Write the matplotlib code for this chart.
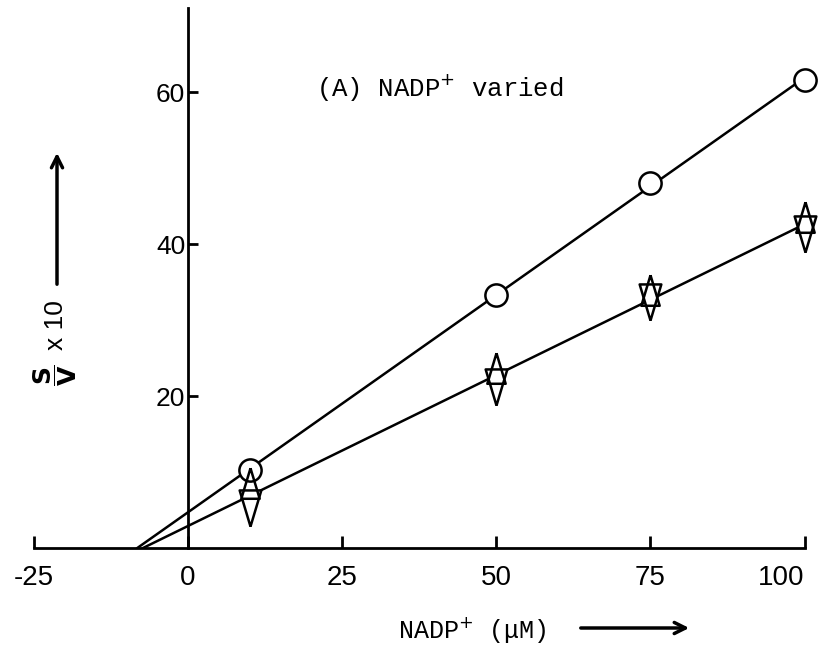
import numpy as np
import matplotlib
matplotlib.use('Agg')
import matplotlib.pyplot as plt

# NADP+ concentration (uM)
conc = [10, 50, 75, 100]
# S/V x 10
s_over_v_circle = [10.3, 33.3, 48.0, 61.6]
s_over_v_up = [8.5, 23.7, 33.9, 43.5]
s_over_v_down = [5.3, 21.2, 32.4, 41.3]

xtick_vals = [-25, 0, 25, 50, 75, 100]
xtick_labels = ['-25', '0', '25', '50', '75', '100']
ytick_vals = [20, 40, 60]
ytick_labels = ['20', '40', '60']

mono = 'Liberation Mono'
sans = 'Liberation Sans'

fig = plt.figure(figsize=(8.22, 6.51), dpi=100)
W, H = 822.0, 651.0
# axes placed so that x=0 sits at px 188 and y=0 at px 548
ax = fig.add_axes([27.6 / W, (H - 548) / H, (817 - 27.6) / W, (548 - 8.4) / H])
ax.set_xlim(-26, 102)
ax.set_ylim(0, 71)

# fitted lines, drawn from the x-intercept to 100
x_circ = np.array(conc, float)
tri_x = np.concatenate([x_circ, x_circ])
tri_y = np.concatenate([s_over_v_up, s_over_v_down])
for xs, ys in [(x_circ, np.array(s_over_v_circle)), (tri_x, tri_y)]:
    m, c = np.polyfit(xs, ys, 1)
    x0 = -c / m
    xx = np.array([x0, 100.5])
    ax.plot(xx, m * xx + c, color='black', lw=1.8, zorder=2)

up_tri = [(0, 1), (-0.6, -1), (0.6, -1), (0, 1)]
dn_tri = [(0, -1), (-0.6, 1), (0.6, 1), (0, -1)]
ax.plot(conc, s_over_v_circle, 'o', ms=16, mfc='white', mec='black', mew=1.8, zorder=3)
ax.plot(conc, s_over_v_down, marker=dn_tri, ls='none', ms=26, mfc='white', mec='black', mew=1.8, zorder=3)
ax.plot(conc, s_over_v_up, marker=up_tri, ls='none', ms=22, mfc='none', mec='black', mew=1.8, zorder=4)

for s in ['top', 'right']:
    ax.spines[s].set_visible(False)
ax.spines['left'].set_position(('data', 0))
ax.spines['left'].set_bounds(0, 71)
ax.spines['bottom'].set_bounds(-25, 100)
ax.spines['left'].set_linewidth(2)
ax.spines['bottom'].set_linewidth(2)

ax.set_xticks(xtick_vals)
ax.set_xticklabels(xtick_labels, fontfamily=sans, fontsize=20)
ax.set_yticks(ytick_vals)
ax.set_yticklabels(ytick_labels, fontfamily=sans, fontsize=19)
ax.tick_params(axis='x', direction='in', length=9, width=2, pad=12)
ax.tick_params(axis='y', direction='in', length=7, width=2, pad=2)
# keep "100" inside the canvas
ax.get_xticklabels()[-1].set_ha('right')
ax.get_xticklabels()[-1].set_x(100)
ax.get_xticklabels()[-1].set_transform(ax.get_xticklabels()[-1].get_transform())

# panel title
fig.text(316 / W, 1 - 97 / H, r'(A) NADP$^{+}$ varied', fontfamily=mono,
         fontsize=18.5, ha='left', va='baseline')

# x label with arrow
fig.text(398 / W, 1 - 638 / H, r'NADP$^{+}$ (μM)', fontfamily=mono,
         fontsize=18, ha='left', va='baseline')
ax.annotate('', xy=(692 / W, 1 - 628 / H), xytext=(578 / W, 1 - 628 / H),
            xycoords='figure fraction', textcoords='figure fraction',
            arrowprops=dict(arrowstyle='->,head_length=0.8,head_width=0.4', lw=2.5, color='black'))

# y label with arrow
fig.text(55 / W, 1 - 375 / H, r'$\dfrac{\mathbf{S}}{\mathbf{V}}$', fontfamily=sans,
         fontsize=18, rotation=90, ha='center', va='center')
fig.text(56 / W, 1 - 325 / H, 'x 10', fontfamily=sans,
         fontsize=19, rotation=90, ha='center', va='center')
ax.annotate('', xy=(57 / W, 1 - 150 / H), xytext=(57 / W, 1 - 287 / H),
            xycoords='figure fraction', textcoords='figure fraction',
            arrowprops=dict(arrowstyle='->,head_length=0.8,head_width=0.4', lw=2.5, color='black'))

fig.savefig('out.png', dpi=100)
